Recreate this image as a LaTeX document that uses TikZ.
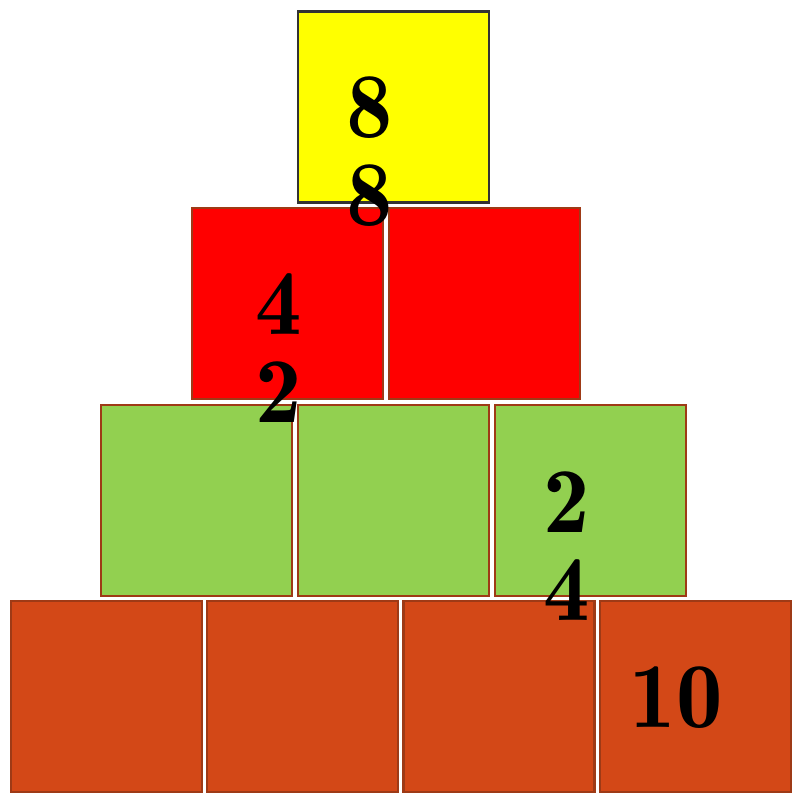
\documentclass[tikz,border=0pt]{standalone}
\usepackage{tikz,xcolor}
\usetikzlibrary{positioning}
\definecolor{blkyellow}{HTML}{FFFF00}
\definecolor{blkred}{HTML}{FF0000}
\definecolor{blkgreen}{HTML}{92D050}
\definecolor{blkorange}{HTML}{D34817}
\definecolor{edgegray}{HTML}{333333}
\definecolor{edgebrown}{HTML}{9E3A16}

\begin{document}
\begin{tikzpicture}[
  block/.style={rectangle,minimum width=4.78cm,minimum height=4.78cm,
                inner sep=0pt,line width=0.06cm,draw=edgebrown},
  num/.style={font=\fontsize{66}{62.6}\fontseries{b}\selectfont,align=center,
              inner sep=0pt,text=black}
]
  \useasboundingbox (0,0) rectangle (19.8,19.825);

  % ---- Bottom row -------------------------------------------
  \node[block,fill=blkorange] (O1) at (2.6625, 2.4125) {};
  \node[block,fill=blkorange] (O2) at (7.5625, 2.4125) {};
  \node[block,fill=blkorange] (O3) at (12.475, 2.4125) {};
  \node[block,fill=blkorange] (O4) at (17.3875,2.4125) {};

  % ---- Third row --------------------------------------------
  \node[block,fill=blkgreen] (G1) at (4.9125, 7.3125) {};
  \node[block,fill=blkgreen] (G2) at (9.8375, 7.3125) {};
  \node[block,fill=blkgreen] (G3) at (14.7625,7.3125) {};

  % ---- Second row -------------------------------------------
  \node[block,fill=blkred] (R1) at (7.1875, 12.2375) {};
  \node[block,fill=blkred] (R2) at (12.1125,12.2375) {};

  % ---- Top block --------------------------------------------
  \node[block,fill=blkyellow,draw=edgegray] (Y) at (9.8375,17.15) {};

  % ---- Numbers ----------------------------------------------
  \node[num] (nY) at (9.25, 16.025)  {8\\8};
  \node[num] (nR) at (6.975,11.125)  {4\\2};
  \node[num] (nG) at (14.175,6.175)  {2\\4};
  \node[num] (nO) at (16.9, 2.3875)  {10};

\end{tikzpicture}
\end{document}
